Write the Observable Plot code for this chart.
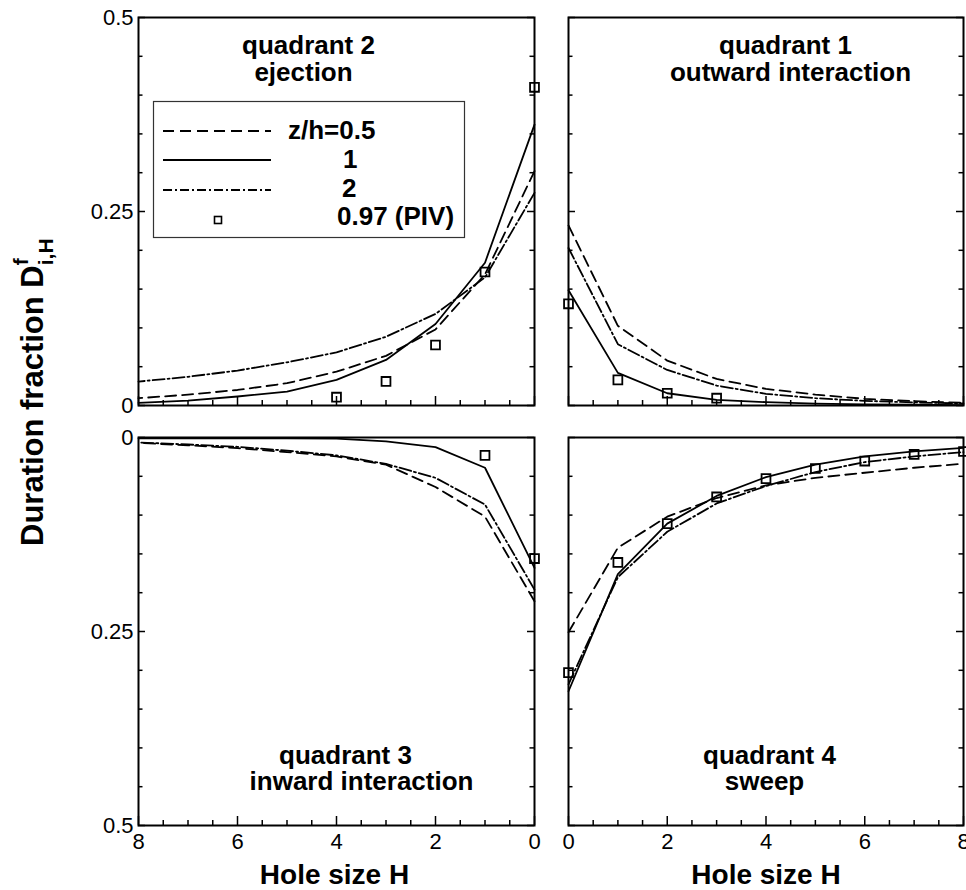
<!DOCTYPE html>
<html>
<head>
<meta charset="utf-8">
<script src="https://cdn.jsdelivr.net/npm/d3@7"></script>
<script src="https://cdn.jsdelivr.net/npm/@observablehq/plot@0.6"></script>
<style>
  body { margin: 0; background: #fff; }
  #wrap { position: relative; width: 966px; height: 890px; background: #fff; overflow: hidden;
          font-family: "Liberation Sans", Arial, Helvetica, sans-serif; }
  .panel { position: absolute; }
  .panel svg { max-width: none !important; }
  #overlay { position: absolute; left: 0; top: 0; pointer-events: none; }
</style>
</head>
<body>
<div id="wrap"></div>
<script>
// ---------------- data ----------------
const H = [0, 1, 2, 3, 4, 5, 6, 7, 8];

// quadrant 2 (ejection)
const q2Half = [0.302, 0.169, 0.098, 0.064, 0.0436, 0.0287, 0.020, 0.014, 0.0094];
const q2One  = [0.362, 0.184, 0.105, 0.0587, 0.033, 0.018, 0.0116, 0.0064, 0.0035];
const q2Two  = [0.274, 0.165, 0.118, 0.0886, 0.0684, 0.0556, 0.045, 0.037, 0.0308];
const q2PivH = [0, 1, 2, 3, 4];
const q2Piv  = [0.41, 0.172, 0.078, 0.031, 0.0107];

// quadrant 1 (outward interaction)
const q1Half = [0.232, 0.1027, 0.0578, 0.0342, 0.0214, 0.0141, 0.0086, 0.0056, 0.0034];
const q1One  = [0.1485, 0.042, 0.0158, 0.0073, 0.0043, 0.0025, 0.0015, 0.001, 0.0006];
const q1Two  = [0.203, 0.079, 0.0458, 0.0257, 0.015, 0.0094, 0.006, 0.004, 0.0026];
const q1PivH = [0, 1, 2, 3];
const q1Piv  = [0.131, 0.033, 0.0158, 0.0094];

// quadrant 3 (inward interaction)
const q3Half = [0.211, 0.102, 0.0638, 0.035, 0.0244, 0.0188, 0.0137, 0.010, 0.007];
const q3One  = [0.168, 0.039, 0.0125, 0.005, 0.0015, 0.001, 0.001, 0.001, 0.001];
const q3Two  = [0.196, 0.0864, 0.052, 0.034, 0.023, 0.017, 0.012, 0.009, 0.0064];
const q3PivH = [0, 1];
const q3Piv  = [0.156, 0.023];

// quadrant 4 (sweep)
const q4Half = [0.251, 0.142, 0.102, 0.078, 0.0616, 0.052, 0.0454, 0.039, 0.0338];
const q4One  = [0.327, 0.176, 0.111, 0.0753, 0.051, 0.035, 0.0244, 0.018, 0.0133];
const q4Two  = [0.318, 0.180, 0.1215, 0.085, 0.0625, 0.0445, 0.0317, 0.0244, 0.0188];
const q4PivH = [0, 1, 2, 3, 4, 5, 6, 7, 8];
const q4Piv  = [0.303, 0.161, 0.111, 0.0766, 0.053, 0.040, 0.0304, 0.0218, 0.018];

// ticks and labels
const yMajor = [0, 0.25, 0.5];
const yMinor = [0.05, 0.1, 0.15, 0.2, 0.3, 0.35, 0.4, 0.45];
const xMajor = [0, 2, 4, 6, 8];
const xMinor = [0.5, 1, 1.5, 2.5, 3, 3.5, 4.5, 5, 5.5, 6.5, 7, 7.5];
const xLabel = "Hole size H";
const yLabelMain = "Duration fraction D";
const yLabelSup = "f";
const yLabelSub = "i,H";
const legendLabels = ["z/h=0.5", "1", "2", "0.97 (PIV)"];
const titles = {
  q2: ["quadrant 2", "ejection"],
  q1: ["quadrant 1", "outward interaction"],
  q3: ["quadrant 3", "inward interaction"],
  q4: ["quadrant 4", "sweep"]
};

// ---------------- styles ----------------
const FONT = "'Liberation Sans', Arial, Helvetica, sans-serif";
const DASH = "11,6";
const DASHDOT = "12,3,2,3";
const LW = 1.8;

const rows = (xs, vs) => xs.map((h, i) => ({H: h, v: vs[i]}));

function panel(o) {
  const fw = o.width - o.mL - o.mR;
  const fh = o.height - o.mT - o.mB;
  const titleOpts = {frameAnchor: "top-left", lineAnchor: "bottom", textAnchor: "middle",
    fontSize: 26, fontWeight: "bold", fill: "black"};
  const marks = [
    // inward ticks on left and right edges
    Plot.tickY(yMinor, {y: d => d, insetRight: fw - 4.5, stroke: "black", strokeWidth: 1.5}),
    Plot.tickY(yMajor, {y: d => d, insetRight: fw - 7, stroke: "black", strokeWidth: 1.5}),
    Plot.tickY(yMinor, {y: d => d, insetLeft: fw - 4.5, stroke: "black", strokeWidth: 1.5}),
    Plot.tickY(yMajor, {y: d => d, insetLeft: fw - 7, stroke: "black", strokeWidth: 1.5}),
    // inward ticks on bottom edge
    Plot.tickX(xMinor, {x: d => d, insetTop: fh - 5, stroke: "black", strokeWidth: 1.5}),
    Plot.tickX(xMajor, {x: d => d, insetTop: fh - 9, stroke: "black", strokeWidth: 1.5}),
    // series
    Plot.line(rows(H, o.half), {x: "H", y: "v", stroke: "black", strokeWidth: LW, strokeDasharray: DASH}),
    Plot.line(rows(H, o.one), {x: "H", y: "v", stroke: "black", strokeWidth: LW}),
    Plot.line(rows(H, o.two), {x: "H", y: "v", stroke: "black", strokeWidth: LW, strokeDasharray: DASHDOT}),
    Plot.dot(rows(o.pivH, o.piv), {x: "H", y: "v", symbol: "square", r: 5, stroke: "black", strokeWidth: 1.8, fill: "none"}),
    Plot.frame({stroke: "black", strokeWidth: 2}),
    // panel title lines
    Plot.text([o.title[0]], {...titleOpts, dx: o.t1[0], dy: o.t1[1]}),
    Plot.text([o.title[1]], {...titleOpts, dx: o.t2[0], dy: o.t2[1]})
  ];
  if (o.yAxis) {
    marks.push(Plot.axisY({anchor: "left", ticks: yMajor, tickSize: 0, tickPadding: 5,
      tickFormat: d => String(d), label: null, fontSize: 22}));
  }
  if (o.xAxis) {
    marks.push(Plot.axisX({anchor: "bottom", ticks: xMajor, tickSize: 0, tickPadding: 8,
      tickFormat: d => String(d), label: null, fontSize: 22}));
    marks.push(Plot.text([xLabel], {frameAnchor: "bottom", dx: o.xlDx, dy: 58, lineAnchor: "bottom",
      textAnchor: "middle", fontSize: 28, fontWeight: "bold", fill: "black"}));
  }
  const chart = Plot.plot({
    width: o.width, height: o.height,
    marginLeft: o.mL, marginRight: o.mR, marginTop: o.mT, marginBottom: o.mB,
    x: {domain: o.xRev ? [8, 0] : [0, 8], ...(o.xAxis ? {} : {axis: null})},
    y: {domain: [0, 0.5], reverse: !!o.yRev, ...(o.yAxis ? {} : {axis: null})},
    style: {fontFamily: FONT, fontSize: "22px", color: "black", background: "transparent", overflow: "visible"},
    marks
  });
  const div = document.createElement("div");
  div.className = "panel";
  div.style.left = o.left + "px";
  div.style.top = o.top + "px";
  div.style.width = o.width + "px";
  div.style.height = o.height + "px";
  div.appendChild(chart);
  document.getElementById("wrap").appendChild(div);
}

// top-left: quadrant 2
panel({left: 0, top: 0, width: 550, height: 420, mL: 138, mR: 16, mT: 17, mB: 15,
  xRev: true, yRev: false, half: q2Half, one: q2One, two: q2Two, pivH: q2PivH, piv: q2Piv,
  title: titles.q2, t1: [170, 36], t2: [165, 63], yAxis: true, xAxis: false});
// top-right: quadrant 1
panel({left: 550, top: 0, width: 416, height: 420, mL: 18, mR: 3, mT: 17, mB: 15,
  xRev: false, yRev: false, half: q1Half, one: q1One, two: q1Two, pivH: q1PivH, piv: q1Piv,
  title: titles.q1, t1: [217, 36], t2: [222, 63], yAxis: false, xAxis: false});
// bottom-left: quadrant 3
panel({left: 0, top: 420, width: 550, height: 470, mL: 138, mR: 16, mT: 17, mB: 65,
  xRev: true, yRev: true, half: q3Half, one: q3One, two: q3Two, pivH: q3PivH, piv: q3Piv,
  title: titles.q3, t1: [207, 326], t2: [223, 352], yAxis: true, xAxis: true, xlDx: -2});
// bottom-right: quadrant 4
panel({left: 550, top: 420, width: 416, height: 470, mL: 18, mR: 3, mT: 17, mB: 65,
  xRev: false, yRev: true, half: q4Half, one: q4One, two: q4Two, pivH: q4PivH, piv: q4Piv,
  title: titles.q4, t1: [201, 326], t2: [196, 352], yAxis: false, xAxis: true, xlDx: 0});

// ---------------- overlay: legend and y label ----------------
const svg = d3.create("svg").attr("id", "overlay").attr("width", 966).attr("height", 890)
  .attr("font-family", FONT);

const lg = svg.append("g");
lg.append("rect").attr("x", 153.5).attr("y", 101.5).attr("width", 311).attr("height", 136)
  .attr("fill", "white").attr("stroke", "#333").attr("stroke-width", 1.2);
const legendStyles = [DASH, null, "9,3,2,3"];
const lineY = [131, 160, 190];
legendStyles.forEach((da, i) => {
  const l = lg.append("line").attr("x1", 163).attr("x2", 271).attr("y1", lineY[i]).attr("y2", lineY[i])
    .attr("stroke", "black").attr("stroke-width", LW);
  if (da) l.attr("stroke-dasharray", da);
});
lg.append("rect").attr("x", 214.5).attr("y", 216.5).attr("width", 7).attr("height", 7)
  .attr("fill", "none").attr("stroke", "black").attr("stroke-width", 1.6);
const labX = [288, 343, 342, 337];
const labY = [139, 168, 197, 225];
legendLabels.forEach((t, i) => {
  lg.append("text").attr("x", labX[i]).attr("y", labY[i]).attr("font-size", 26)
    .attr("font-weight", "bold").attr("fill", "black").text(t);
});

const yl = svg.append("text").attr("transform", "translate(43,546) rotate(-90)")
  .attr("font-size", 31).attr("font-weight", "bold").attr("fill", "black");
yl.append("tspan").text(yLabelMain);
yl.append("tspan").attr("font-size", 21).attr("dy", -15).text(yLabelSup);
yl.append("tspan").attr("font-size", 21).attr("dx", -7).attr("dy", 25).text(yLabelSub);

document.getElementById("wrap").appendChild(svg.node());
</script>
</body>
</html>
